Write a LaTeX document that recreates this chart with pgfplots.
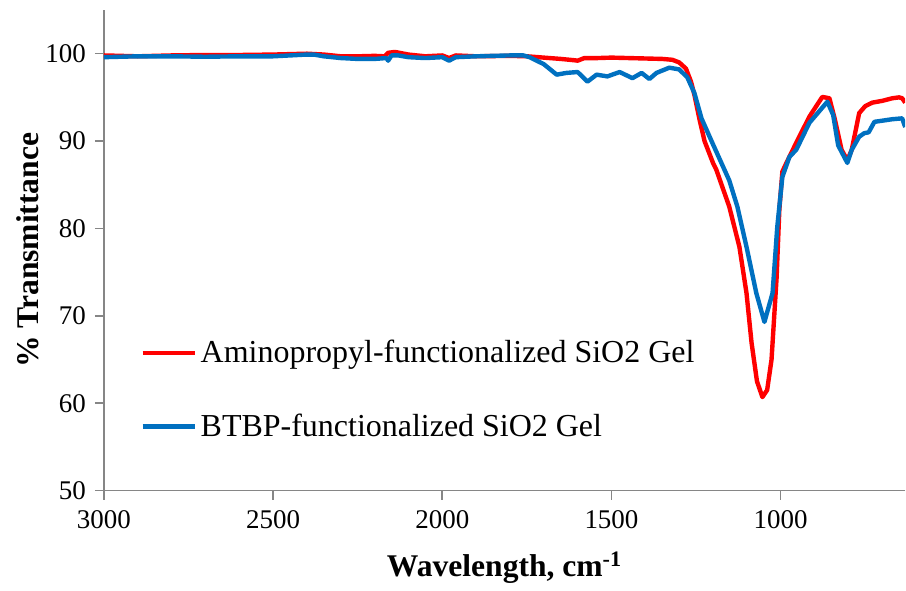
\documentclass[border=0pt]{standalone}
\usepackage{pgfplots}
\pgfplotsset{compat=1.18}
\usepackage{fontspec}
\setmainfont{Liberation Serif}
\definecolor{axgray}{RGB}{134,134,134}
\definecolor{myred}{RGB}{255,0,0}
\definecolor{myblue}{RGB}{0,112,192}
\begin{document}
\begin{tikzpicture}
\begin{axis}[
  scale only axis,
  width=401pt, height=240.5pt,
  x dir=reverse,
  xmin=632, xmax=3000,
  ymin=50, ymax=105,
  xtick={3000,2500,2000,1500,1000},
  ytick={50,60,70,80,90,100},
  axis x line*=bottom, axis y line*=left,
  axis line style={axgray, line width=0.8pt, -},
  tick style={axgray, line width=0.8pt},
  tick align=outside,
  major tick length=4.5pt,
  /pgf/number format/assume math mode=true,
  /pgf/number format/1000 sep={},
  ticklabel style={font=\fontsize{13.5}{16}\selectfont},
  yticklabel style={xshift=-1pt},
  xticklabel style={yshift=-2pt},
  xlabel={\textbf{Wavelength, cm\textsuperscript{-1}}},
  ylabel={\textbf{\% Transmittance}},
  label style={font=\fontsize{15.8}{18}\selectfont},
  xlabel style={at={(rel axis cs:0.5,0)}, anchor=center, yshift=-38.5pt},
  ylabel style={at={(rel axis cs:0,0.5)}, anchor=center, yshift=38pt},
  legend style={draw=none, fill=none, at={(rel axis cs:0.045,0.322)}, anchor=north west,
    font=\fontsize{16}{19}\selectfont, row sep=20pt, inner sep=0pt},
  legend cell align=left,
  legend image code/.code={\draw[#1] (0pt,0pt) -- (26pt,0pt);},
]
\addplot[myred, line width=2.2pt, line join=round] coordinates {
(3000,99.8) (2900,99.7) (2800,99.8) (2700,99.85) (2600,99.85) (2500,99.9)
(2400,100.0) (2350,99.9) (2300,99.7) (2250,99.7) (2200,99.75) (2170,99.7)
(2160,100.1) (2140,100.2) (2100,99.9) (2050,99.7) (2000,99.8) (1980,99.5)
(1960,99.8) (1900,99.7) (1800,99.75) (1750,99.7) (1700,99.55) (1650,99.4)
(1610,99.25) (1600,99.2) (1580,99.5) (1540,99.5) (1500,99.55) (1450,99.5)
(1400,99.45) (1350,99.4) (1320,99.3) (1300,99.0) (1280,98.3) (1265,96.8)
(1255,95.3) (1240,92.5) (1225,90.0) (1200,87.5) (1190,86.7) (1152,82.5)
(1122,77.9) (1101,72.6) (1086,66.9) (1070,62.5) (1054,60.7) (1040,61.5)
(1027,65.0) (1012,74.4) (1004,82.1) (995,86.5) (983,87.5) (954,89.8)
(915,92.8) (877,95.05) (856,94.9) (840,92.5) (820,89.0) (803,87.8)
(790,89.0) (768,93.2) (750,94.0) (729,94.4) (700,94.6) (670,94.9)
(650,95.0) (641,94.9) (632,94.4)
};
\addlegendentry{Aminopropyl-functionalized SiO2 Gel}
\addplot[myblue, line width=2.2pt, line join=round] coordinates {
(3000,99.6) (2900,99.7) (2800,99.7) (2700,99.65) (2600,99.7) (2500,99.7)
(2400,99.9) (2380,99.9) (2350,99.7) (2300,99.5) (2250,99.4) (2200,99.4)
(2165,99.5) (2160,99.2) (2150,99.8) (2130,99.8) (2100,99.6) (2050,99.5)
(2000,99.6) (1980,99.2) (1960,99.6) (1900,99.7) (1800,99.8) (1760,99.8)
(1742,99.6) (1700,98.8) (1662,97.6) (1633,97.8) (1600,97.9) (1571,96.8)
(1544,97.6) (1512,97.4) (1476,97.9) (1438,97.2) (1411,97.8) (1388,97.1)
(1367,97.8) (1329,98.4) (1300,98.2) (1276,97.3) (1255,95.5) (1234,92.6)
(1202,89.8) (1152,85.5) (1128,82.5) (1101,77.9) (1072,72.6) (1048,69.3)
(1024,72.6) (1010,80.2) (995,85.9) (974,88.2) (954,89.0) (915,92.1)
(862,94.5) (845,93.0) (830,89.5) (803,87.5) (790,89.0) (768,90.5)
(753,90.9) (740,91.0) (723,92.2) (670,92.5) (641,92.6) (632,91.6)
};
\addlegendentry{BTBP-functionalized SiO2 Gel}
\end{axis}
\path ([shift={(-52pt,-47pt)}]current axis.south west) rectangle ([shift={(0pt,5pt)}]current axis.north east);
\end{tikzpicture}
\end{document}
